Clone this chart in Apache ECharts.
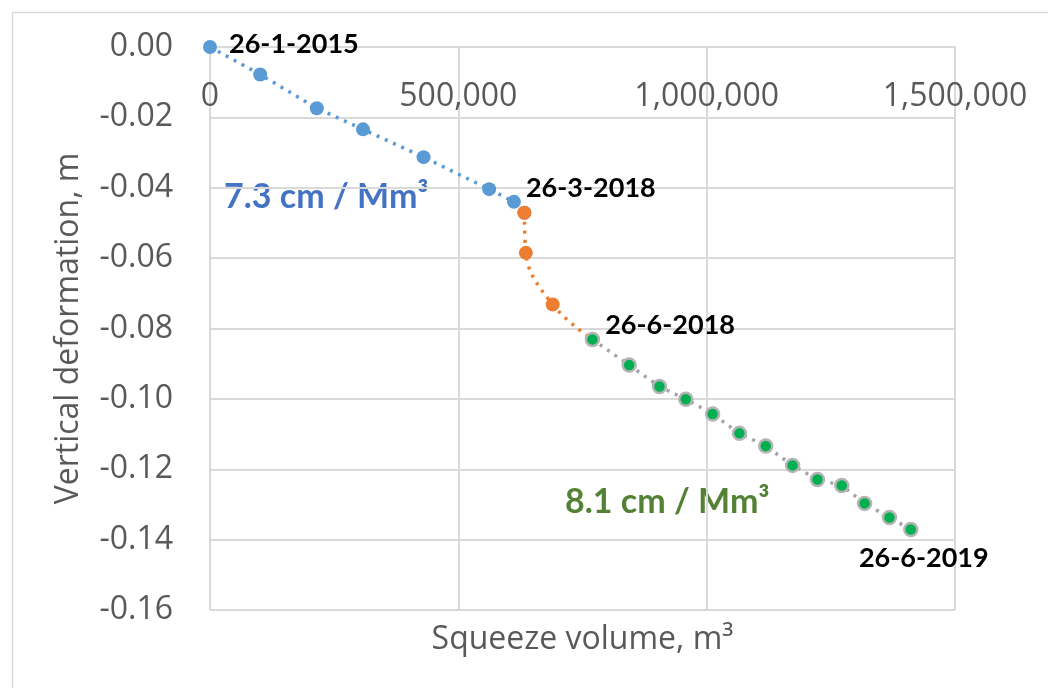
<!DOCTYPE html>
<html>
<head>
<meta charset="utf-8">
<script src="https://cdn.jsdelivr.net/npm/echarts@6/dist/echarts.min.js"></script>
<style>
  html, body { margin: 0; padding: 0; background: #fff; }
  #main { width: 1048px; height: 688px; }
</style>
</head>
<body>
<div id="main"></div>
<script>
// squeeze volume (m3) vs vertical deformation (m)
const blueX = [0, 101000, 215000, 308000, 430000, 562000, 612000]
const blueY = [0, -0.0078, -0.0174, -0.0234, -0.0313, -0.0404, -0.0440]
const orangeX = [633000, 636000, 690000]
const orangeY = [-0.0471, -0.0585, -0.0732]
const greenX = [770000, 844000, 905000, 958000, 1012000, 1066000, 1119000, 1173000, 1223000, 1272000, 1318000, 1368000, 1411000]
const greenY = [-0.0831, -0.0904, -0.0965, -0.1001, -0.1043, -0.1098, -0.1134, -0.1189, -0.1229, -0.1246, -0.1297, -0.1337, -0.1371]
const dateLabels = ['26-1-2015', '26-3-2018', '26-6-2018', '26-6-2019']
const rateLabels = ['7.3 cm / Mm³', '8.1 cm / Mm³']

const axisFont = 'Open Sans'
const boldFont = 'Lato'

function pairs (xs, ys) {
  return xs.map((x, i) => [x, ys[i]])
}

function dateLabel (text, cfg) {
  return Object.assign({
    show: true,
    formatter: text,
    color: '#000',
    fontFamily: boldFont,
    fontWeight: 'bold',
    fontSize: 27
  }, cfg)
}

// each line runs on to the first point of the next segment
const blueData = pairs(blueX, blueY).concat([[orangeX[0], orangeY[0]]])
const orangeData = pairs(orangeX, orangeY).concat([[greenX[0], greenY[0]]])
const greenData = pairs(greenX, greenY)

const blueItems = blueData.map((d, i) => {
  if (i === 0) return { value: d, label: dateLabel(dateLabels[0], { position: 'right', distance: 12, offset: [0, -3] }) }
  if (i === blueX.length - 1) return { value: d, label: dateLabel(dateLabels[1], { position: 'right', distance: 5, offset: [0, -14] }) }
  return d
})
const greenItems = greenData.map((d, i) => {
  if (i === 0) return { value: d, label: dateLabel(dateLabels[2], { position: 'right', distance: 5, offset: [0, -14] }) }
  if (i === greenX.length - 1) return { value: d, label: dateLabel(dateLabels[3], { position: 'bottom', distance: 8, offset: [13, 0] }) }
  return d
})

const chart = echarts.init(document.getElementById('main'))
chart.setOption({
  animation: false,
  grid: { left: 210, right: 93, top: 47, bottom: 78 },
  xAxis: [
    {
      type: 'value',
      position: 'top',
      min: 0,
      max: 1500000,
      interval: 500000,
      axisLine: { show: true, lineStyle: { color: '#d9d9d9', width: 2 } },
      axisTick: { show: false },
      axisLabel: {
        inside: true,
        margin: 34,
        color: '#595959',
        fontFamily: axisFont,
        fontSize: 32,
        formatter: v => v.toLocaleString('en-US')
      },
      splitLine: { show: true, lineStyle: { color: '#d9d9d9', width: 2 } }
    },
    {
      // only carries the axis title under the plot
      type: 'value',
      position: 'bottom',
      min: 0,
      max: 1500000,
      axisLine: { show: false, onZero: false },
      axisTick: { show: false },
      axisLabel: { show: false },
      splitLine: { show: false },
      name: 'Squeeze volume, m³',
      nameLocation: 'middle',
      nameGap: 14,
      nameTextStyle: { color: '#595959', fontFamily: axisFont, fontSize: 32 }
    }
  ],
  yAxis: {
    type: 'value',
    min: -0.16,
    max: 0,
    interval: 0.02,
    axisLine: { show: false },
    axisTick: { show: false },
    axisLabel: {
      margin: 37,
      color: '#595959',
      fontFamily: axisFont,
      fontSize: 32,
      formatter: v => v.toFixed(2)
    },
    splitLine: { show: true, lineStyle: { color: '#d9d9d9', width: 2 } },
    name: 'Vertical deformation, m',
    nameLocation: 'middle',
    nameGap: 125,
    nameTextStyle: { color: '#595959', fontFamily: axisFont, fontSize: 32 }
  },
  series: [
    {
      type: 'line',
      data: blueItems,
      symbol: 'circle',
      symbolSize: 14,
      itemStyle: { color: '#5b9bd5' },
      lineStyle: { color: '#5b9bd5', width: 3.5, type: [3, 6] }
    },
    {
      type: 'line',
      data: orangeData,
      smooth: 0.4,
      symbol: 'circle',
      symbolSize: 14,
      itemStyle: { color: '#ed7d31' },
      lineStyle: { color: '#ed7d31', width: 3.5, type: [3, 6] }
    },
    {
      type: 'line',
      data: greenItems,
      symbol: 'circle',
      symbolSize: 13,
      itemStyle: { color: '#00b050', borderColor: '#b4b4b4', borderWidth: 2.5 },
      lineStyle: { color: '#a5a5a5', width: 3.5, type: [3, 6] }
    }
  ],
  graphic: [
    {
      type: 'rect',
      left: 10,
      top: 10,
      shape: { width: 1060, height: 700 },
      style: { fill: 'none', stroke: '#d9d9d9', lineWidth: 1.5 },
      silent: true
    },
    {
      type: 'text',
      x: 224,
      y: 197,
      style: { text: rateLabels[0], fill: '#4472c4', font: 'bold 34px Lato', verticalAlign: 'middle' }
    },
    {
      type: 'text',
      x: 565,
      y: 502,
      style: { text: rateLabels[1], fill: '#548235', font: 'bold 34px Lato', verticalAlign: 'middle' }
    }
  ]
})
</script>
</body>
</html>
